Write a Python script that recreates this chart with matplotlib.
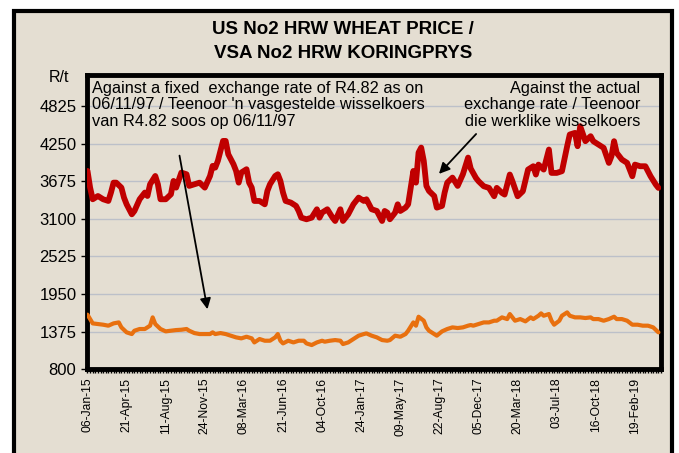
import numpy as np
import matplotlib
matplotlib.use('Agg')
from matplotlib import pyplot as plt
from matplotlib.patches import Rectangle

plt.rcParams['font.family'] = ['Liberation Sans', 'DejaVu Sans']

# week index (from 06-Jan-15) and price in R/t
red_wk = [0, 1, 2, 4, 6, 8, 9, 10, 11, 13, 14, 15, 17, 18, 20, 22, 23, 24, 26, 27,
          28, 30, 32, 33, 34, 36, 38, 39, 41, 43, 45, 47, 48, 49, 50, 52, 53, 54, 56, 57,
          58, 59, 61, 62, 63, 64, 66, 68, 69, 70, 72, 73, 74, 75, 76, 78, 80, 81, 82, 84,
          86, 88, 89, 90, 92, 94, 95, 97, 98, 100, 102, 104, 106, 107, 109, 111, 113, 114, 115, 116,
          118, 119, 120, 122, 123, 125, 126, 127, 128, 129, 130, 131, 133, 134, 136, 137, 138, 140, 142, 144,
          146, 147, 149, 150, 152, 154, 156, 157, 159, 160, 162, 163, 165, 167, 169, 171, 172, 173, 175, 177,
          178, 180, 182, 184, 185, 187, 188, 189, 191, 193, 194, 196, 198, 200, 201, 202, 203, 205, 207, 209,
          210, 212, 214, 216, 218, 219]
red_val = [3833, 3578, 3400, 3450, 3400, 3374, 3502, 3654, 3654, 3578, 3425, 3323, 3170, 3221, 3400, 3502, 3450, 3629, 3756, 3629,
           3400, 3400, 3476, 3680, 3578, 3808, 3782, 3604, 3629, 3654, 3578, 3756, 3910, 3884, 3986, 4292, 4292, 4088, 3935, 3833,
           3654, 3808, 3859, 3654, 3578, 3374, 3374, 3323, 3527, 3629, 3756, 3782, 3680, 3502, 3374, 3349, 3298, 3221, 3119, 3094,
           3119, 3247, 3119, 3196, 3247, 3119, 3068, 3247, 3068, 3170, 3323, 3425, 3374, 3400, 3247, 3221, 3068, 3221, 3196, 3094,
           3196, 3323, 3221, 3272, 3323, 3833, 3654, 4114, 4190, 3986, 3604, 3527, 3450, 3272, 3298, 3502, 3654, 3731, 3604, 3782,
           4037, 3870, 3727, 3676, 3599, 3574, 3446, 3574, 3497, 3472, 3778, 3676, 3446, 3523, 3854, 3905, 3778, 3930, 3854, 4160,
           3803, 3803, 3829, 4211, 4390, 4415, 4211, 4517, 4288, 4364, 4288, 4236, 4186, 3956, 4058, 4288, 4109, 4007, 3956, 3752,
           3930, 3905, 3905, 3752, 3625, 3574]

orange_wk = [0, 1, 2, 4, 6, 8, 10, 12, 13, 15, 17, 18, 20, 22, 24, 25, 26, 28, 30, 32,
             34, 36, 38, 39, 41, 43, 45, 47, 48, 49, 51, 53, 55, 57, 59, 61, 63, 64, 66, 68,
             70, 72, 73, 74, 75, 77, 79, 81, 83, 84, 86, 88, 90, 91, 93, 95, 97, 98, 100, 102,
             104, 106, 107, 109, 111, 113, 115, 116, 118, 120, 122, 123, 125, 126, 127, 129, 130, 131, 133, 134,
             136, 138, 140, 142, 144, 146, 147, 148, 150, 152, 154, 156, 157, 159, 161, 162, 163, 164, 166, 168,
             170, 171, 173, 174, 175, 177, 178, 179, 181, 182, 184, 185, 187, 189, 191, 193, 194, 196, 198, 200,
             202, 203, 205, 207, 209, 211, 213, 215, 217, 219]
orange_val = [1635, 1568, 1502, 1492, 1482, 1467, 1502, 1517, 1441, 1365, 1339, 1390, 1416, 1416, 1467, 1594, 1492, 1416, 1380, 1390,
              1400, 1405, 1416, 1390, 1354, 1339, 1339, 1339, 1365, 1339, 1354, 1339, 1314, 1288, 1273, 1298, 1273, 1211, 1263, 1237,
              1237, 1288, 1339, 1237, 1196, 1237, 1211, 1237, 1237, 1196, 1171, 1211, 1237, 1222, 1237, 1247, 1237, 1186, 1211, 1263,
              1314, 1339, 1349, 1314, 1288, 1247, 1237, 1247, 1314, 1298, 1339, 1390, 1517, 1467, 1604, 1543, 1441, 1390, 1339, 1314,
              1380, 1416, 1441, 1431, 1441, 1467, 1477, 1467, 1492, 1517, 1517, 1543, 1543, 1594, 1568, 1645, 1594, 1543, 1568, 1533,
              1594, 1568, 1619, 1655, 1619, 1645, 1543, 1482, 1543, 1619, 1670, 1619, 1594, 1594, 1584, 1594, 1568, 1568, 1543, 1568,
              1604, 1568, 1568, 1543, 1482, 1482, 1467, 1467, 1441, 1365]

tick_labels = ['06-Jan-15', '21-Apr-15', '11-Aug-15', '24-Nov-15', '08-Mar-16', '21-Jun-16',
               '04-Oct-16', '24-Jan-17', '09-May-17', '22-Aug-17', '05-Dec-17', '20-Mar-18',
               '03-Jul-18', '16-Oct-18', '19-Feb-19']
y_ticks = [800, 1375, 1950, 2525, 3100, 3675, 4250, 4825]

BG = '#E4DED2'
W, H = 679, 453

fig = plt.figure(figsize=(6.79, 4.53), dpi=100)
fig.patch.set_facecolor('white')
frame = Rectangle((13.5 / W, -0.05), (672 - 13.5) / W, (H - 11.5) / H + 0.05,
                  transform=fig.transFigure, facecolor=BG, edgecolor='black', lw=3, zorder=0)
fig.add_artist(frame)

ax = fig.add_axes([87.5 / W, (H - 369.3) / H, (661 - 87.5) / W, (369.3 - 75) / H])
ax.set_facecolor(BG)

ax.plot(red_wk, red_val, color='#C00000', lw=4.2, solid_joinstyle='round', solid_capstyle='round', zorder=3)
ax.plot(orange_wk, orange_val, color='#E8700F', lw=3, solid_joinstyle='round', solid_capstyle='round', zorder=3)

ax.set_xlim(0, 220)
ax.set_ylim(800, 5300)
ax.set_yticks(y_ticks)
ax.set_yticklabels([str(v) for v in y_ticks], fontsize=12)
ax.set_xticks(np.arange(len(tick_labels)) * 15)
ax.set_xticklabels(tick_labels, rotation=90, fontsize=8.7)
ax.set_xticks(np.arange(0, 221), minor=True)
ax.tick_params(axis='x', which='both', direction='out', length=3, width=1, pad=3)
ax.tick_params(axis='y', direction='out', length=4, width=1, pad=4)
ax.grid(axis='y', color='#BCC0C9', lw=1, zorder=1)
ax.set_axisbelow(True)
for s in ax.spines.values():
    s.set_linewidth(3.5)
    s.set_color('black')

fig.text(343 / W, 1 - 30 / H, 'US No2 HRW WHEAT PRICE /', ha='center', va='center',
         fontsize=13.5, fontweight='bold')
fig.text(343 / W, 1 - 53 / H, 'VSA No2 HRW KORINGPRYS', ha='center', va='center',
         fontsize=13.5, fontweight='bold')
fig.text(59 / W, 1 - 77 / H, 'R/t', ha='center', va='center', fontsize=11.5)

fig.text(92 / W, 1 - 81 / H,
         "Against a fixed  exchange rate of R4.82 as on\n"
         "06/11/97 / Teenoor 'n vasgestelde wisselkoers\n"
         "van R4.82 soos op 06/11/97",
         ha='left', va='top', fontsize=11.8, linespacing=1.12)
fig.text(640 / W, 1 - 81 / H,
         "Against the actual\nexchange rate / Teenoor\ndie werklike wisselkoers",
         ha='right', va='top', multialignment='right', fontsize=11.8, linespacing=1.12)

ax.annotate('', xy=(46.2, 1676), xytext=(35.1, 4109),
            arrowprops=dict(arrowstyle='-|>', color='black', lw=1.3, mutation_scale=16))
ax.annotate('', xy=(134.1, 3757), xytext=(149.8, 4429), annotation_clip=False,
            arrowprops=dict(arrowstyle='-|>', color='black', lw=1.3, mutation_scale=16))

fig.savefig('out.png', dpi=100)
